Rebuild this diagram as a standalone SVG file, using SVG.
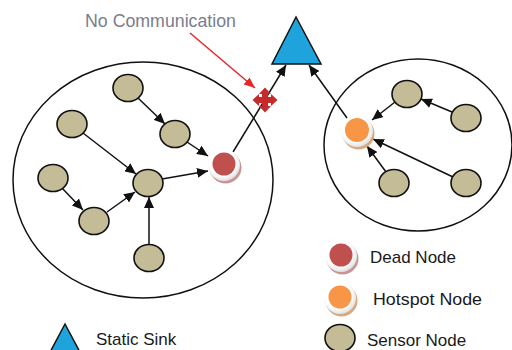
<svg xmlns="http://www.w3.org/2000/svg" width="512" height="350" viewBox="0 0 512 350">
  <defs>
    <style>
      .cluster { fill: none; stroke: #111; stroke-width: 1.5; }
      .sensor { fill: #c4bc96; stroke: #111; stroke-width: 1.6; }
      .sink { fill: #1fa3dc; stroke: #111; stroke-width: 1.5; stroke-linejoin: miter; }
      .link { stroke: #111; stroke-width: 1.5; fill: none; marker-end: url(#arrow); }
      .alert { stroke: #e8262a; stroke-width: 1.5; fill: none; marker-end: url(#arrowRed); }
      .ring { fill: url(#ringGrad); }
      .label { font-family: "Liberation Sans", Arial, sans-serif; font-size: 17px; fill: #1a1a1a; }
      .note { font-family: "Liberation Sans", Arial, sans-serif; font-size: 17.5px; fill: #7a7d8c; }
    </style>
    <radialGradient id="ringGrad" cx="0.45" cy="0.42" r="0.6">
      <stop offset="0.7" stop-color="#ffffff"/>
      <stop offset="1" stop-color="#dcdcdc"/>
    </radialGradient>
    <marker id="arrow" markerUnits="userSpaceOnUse" markerWidth="11" markerHeight="10" refX="11" refY="5" orient="auto">
      <path d="M0,0 L11,5 L0,10 z" fill="#111"/>
    </marker>
    <marker id="arrowRed" markerUnits="userSpaceOnUse" markerWidth="11" markerHeight="9" refX="11" refY="4.5" orient="auto">
      <path d="M0,0 L11,4.5 L0,9 z" fill="#e8262a"/>
    </marker>
  </defs>

  <rect width="512" height="350" fill="#ffffff"/>

  <!-- cluster boundaries -->
  <g id="clusters">
    <ellipse class="cluster" cx="143" cy="180" rx="130" ry="118"/>
    <ellipse class="cluster" cx="418" cy="145" rx="94" ry="86"/>
  </g>

  <!-- connectors -->
  <g id="connectors">
    <line class="link" x1="138" y1="98" x2="165" y2="124"/>
    <line class="link" x1="187" y1="142" x2="208" y2="156"/>
    <line class="link" x1="83" y1="133" x2="136" y2="174"/>
    <line class="link" x1="162" y1="179" x2="208" y2="171"/>
    <line class="link" x1="62" y1="188" x2="83" y2="210"/>
    <line class="link" x1="107" y1="212" x2="135" y2="192"/>
    <line class="link" x1="149" y1="245" x2="149" y2="197"/>
    <line class="link" x1="233" y1="152" x2="286" y2="65"/>
    <line class="link" x1="347" y1="118" x2="309" y2="65"/>
    <line class="link" x1="395" y1="102" x2="372" y2="120"/>
    <line class="link" x1="452" y1="112" x2="421" y2="99"/>
    <line class="link" x1="386" y1="172" x2="367" y2="146"/>
    <line class="link" x1="453" y1="177" x2="373" y2="139"/>
    <line class="alert" x1="190" y1="33" x2="255" y2="88"/>
  </g>

  <!-- broken link mark: four-way arrow cross -->
  <g id="broken-link" transform="translate(265,100)">
    <path fill="#c62a2a" d="M0,-12.5 L6,-6 L3,-6 L3,-3 L6,-3 L6,-6 L12.5,0 L6,6 L6,3 L3,3 L3,6 L6,6 L0,12.5 L-6,6 L-3,6 L-3,3 L-6,3 L-6,6 L-12.5,0 L-6,-6 L-6,-3 L-3,-3 L-3,-6 L-6,-6 z"/>
  </g>

  <text class="note" x="85" y="27" textLength="151" lengthAdjust="spacingAndGlyphs">No Communication</text>

  <!-- sink -->
  <g id="sink">
    <polygon class="sink" points="296,17 321,64 272,64"/>
  </g>

  <!-- left cluster nodes -->
  <g id="n1"><ellipse class="sensor" cx="128" cy="88" rx="15" ry="13.5"/></g>
  <g id="n2"><ellipse class="sensor" cx="72" cy="124" rx="15" ry="13.5"/></g>
  <g id="n3"><ellipse class="sensor" cx="175" cy="134" rx="15" ry="13.5"/></g>
  <g id="n4"><ellipse class="sensor" cx="53" cy="178" rx="15" ry="13.5"/></g>
  <g id="n5"><ellipse class="sensor" cx="148" cy="183" rx="15" ry="13.5"/></g>
  <g id="n6"><ellipse class="sensor" cx="94" cy="221" rx="15" ry="13.5"/></g>
  <g id="n7"><ellipse class="sensor" cx="149" cy="258" rx="15" ry="13.5"/></g>
  <g id="dead">
    <circle cx="225.5" cy="167.5" r="16" fill="#c99494"/>
    <circle class="ring" cx="224" cy="165" r="16"/>
    <circle cx="224" cy="164" r="11.5" fill="#c0504d"/>
  </g>

  <!-- right cluster nodes -->
  <g id="n8"><ellipse class="sensor" cx="407" cy="94" rx="15" ry="13.5"/></g>
  <g id="n9"><ellipse class="sensor" cx="466" cy="118" rx="15" ry="13.5"/></g>
  <g id="n10"><ellipse class="sensor" cx="394" cy="183" rx="15" ry="13.5"/></g>
  <g id="n11"><ellipse class="sensor" cx="466" cy="183" rx="15" ry="13.5"/></g>
  <g id="hotspot">
    <circle cx="358.5" cy="133.5" r="16" fill="#d9a87c"/>
    <circle class="ring" cx="357" cy="131" r="16"/>
    <circle cx="357" cy="130" r="12" fill="#f79646"/>
  </g>

  <!-- legend -->
  <g id="legend-sink">
    <polygon class="sink" points="65,324 90,371 40,371"/>
    <text class="label" x="96" y="345">Static Sink</text>
  </g>
  <g id="legend-dead">
    <circle cx="342.5" cy="258.5" r="16" fill="#c99494"/>
    <circle class="ring" cx="341" cy="256" r="16"/>
    <circle cx="341" cy="255" r="11.5" fill="#c0504d"/>
    <text class="label" x="370" y="263">Dead Node</text>
  </g>
  <g id="legend-hotspot">
    <circle cx="341.5" cy="300.5" r="16" fill="#d9a87c"/>
    <circle class="ring" cx="340" cy="298" r="16"/>
    <circle cx="340" cy="297" r="11.5" fill="#f79646"/>
    <text class="label" x="373" y="305" textLength="109" lengthAdjust="spacingAndGlyphs">Hotspot Node</text>
  </g>
  <g id="legend-sensor">
    <ellipse class="sensor" cx="340" cy="338" rx="15" ry="13.5"/>
    <text class="label" x="367" y="346">Sensor Node</text>
  </g>
</svg>
